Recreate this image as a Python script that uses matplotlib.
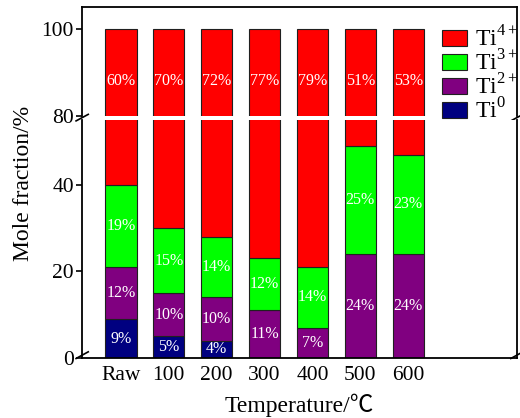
import numpy as np
import matplotlib
matplotlib.use('Agg')
import matplotlib.pyplot as plt
from matplotlib.patches import Patch

'''Dados'''
temperaturas = ['Raw', '100', '200', '300', '400', '500', '600']
ti0 = [9, 5, 4, 0, 0, 0, 0]
ti2 = [12, 10, 10, 11, 7, 24, 24]
ti3 = [19, 15, 14, 12, 14, 25, 23]
ti4 = [60, 70, 72, 77, 79, 51, 53]

especies = ['Ti$^{\\mathregular{4+}}$', 'Ti$^{\\mathregular{3+}}$',
            'Ti$^{\\mathregular{2+}}$', 'Ti$^{\\mathregular{0}}$']
cores = ['#ff0000', '#00ff00', '#800080', '#000080']

plt.rcParams['font.family'] = ['Liberation Serif', 'Noto Sans CJK SC']
plt.rcParams['mathtext.fontset'] = 'custom'
plt.rcParams['mathtext.rm'] = 'Liberation Serif'

fig = plt.figure(figsize=(5.2, 4.18), dpi=100)
esq, dir = 0.158, 0.994
ax_sup = fig.add_axes([esq, 0.7225, dir - esq, 0.983 - 0.7225])
ax_inf = fig.add_axes([esq, 0.1435, dir - esq, 0.713 - 0.1435])

x = np.arange(len(temperaturas))
largura = 0.65
camadas = [ti0, ti2, ti3, ti4]
cores_camadas = [cores[3], cores[2], cores[1], cores[0]]

# barras empilhadas nos dois eixos (o corte fica por conta dos limites)
for ax in (ax_sup, ax_inf):
    base = np.zeros(len(x))
    for vals, cor in zip(camadas, cores_camadas):
        ax.bar(x, vals, largura, bottom=base, color=cor,
               edgecolor='#202020', linewidth=0.8)
        base = base + np.array(vals)
    ax.set_xlim(-0.81, 8.27)
    for s in ax.spines.values():
        s.set_linewidth(1.3)

ax_sup.set_ylim(80, 105)
ax_inf.set_ylim(0, 55)
ax_sup.spines['bottom'].set_visible(False)
ax_inf.spines['top'].set_visible(False)

ax_sup.set_yticks([80, 100])
ax_inf.set_yticks([0, 20, 40])
ax_sup.set_xticks([])
ax_inf.set_xticks(x)
ax_inf.set_xticklabels(temperaturas)
for ax in (ax_sup, ax_inf):
    ax.tick_params(axis='y', direction='out', length=4, width=1.2,
                   labelsize=15.5, pad=2)
    ax.tick_params(axis='x', length=0, labelsize=15.5, pad=6)

# rótulos de porcentagem
kw = dict(ha='center', va='center', color='white', fontsize=11.5)
for i in range(len(x)):
    ax_sup.text(x[i], 88, '%d%%' % ti4[i], **kw)
    b = 0
    for vals in (ti0, ti2, ti3):
        if vals[i] > 0:
            ax_inf.text(x[i], b + vals[i] / 2.0, '%d%%' % vals[i], **kw)
        b += vals[i]

# marcas de quebra do eixo
d = 0.014
kwq = dict(color='k', clip_on=False, linewidth=1.2)
for xx in (0, 1):
    ax_sup.plot([xx - d, xx + d], [-0.045, 0.015], transform=ax_sup.transAxes, **kwq)
    ax_inf.plot([xx - d, xx + d], [-0.002, 0.026], transform=ax_inf.transAxes, **kwq)

fig.text(0.046, 1 - 183 / 418.0, 'Mole fraction/%', rotation=90,
         ha='center', va='center', fontsize=17)
fig.text((esq + dir) / 2, 1 - 405 / 418.0, 'Temperature/\u2103',
         ha='center', va='center', fontsize=17)

handles = [Patch(facecolor=c, edgecolor='#202020', linewidth=0.8) for c in cores]
fig.legend(handles, especies, loc='upper left', bbox_to_anchor=(0.85, 0.938),
           frameon=False, fontsize=17, handlelength=1.05, handleheight=0.65,
           labelspacing=-0.05, handletextpad=0.35, borderaxespad=0, borderpad=0)

plt.savefig('out.png', dpi=100)
